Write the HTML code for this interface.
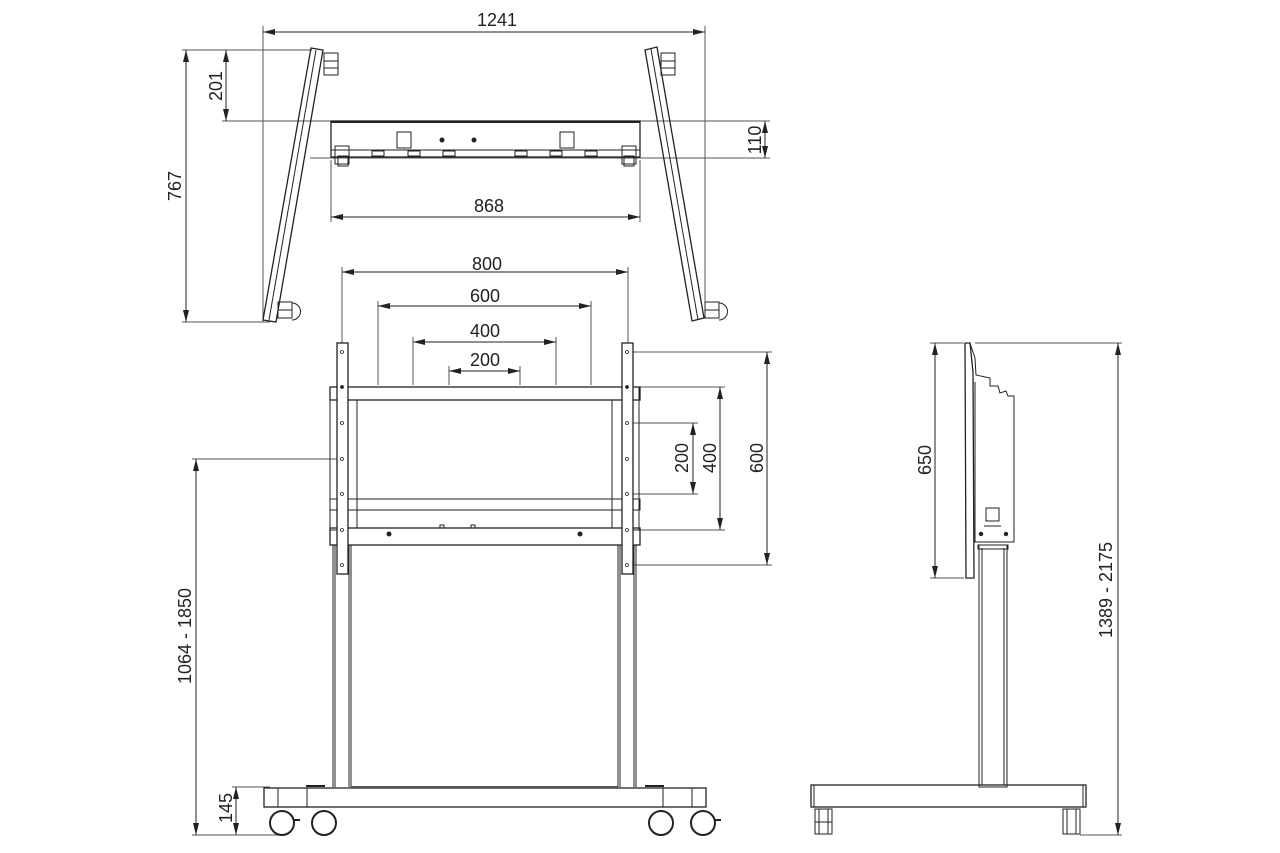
<!DOCTYPE html>
<html><head><meta charset="utf-8"><style>
html,body{margin:0;padding:0;background:#fff;}
svg{display:block;}
text{font-family:"Liberation Sans",Arial,sans-serif;font-size:18px;fill:#222;}
</style></head><body>
<svg width="1280" height="853" viewBox="0 0 1280 853" xmlns="http://www.w3.org/2000/svg">
<defs>
<marker id="a" viewBox="0 0 12 6" refX="12" refY="3" markerWidth="12" markerHeight="6" orient="auto-start-reverse" markerUnits="userSpaceOnUse"><path d="M0,0 L12,3 L0,6 z" fill="#222"/></marker>
</defs>
<g stroke="#222" stroke-width="1" fill="none">
<line x1="263" y1="26" x2="263" y2="322" stroke="#555"/>
<line x1="705" y1="26" x2="705" y2="312" stroke="#555"/>
<line x1="182" y1="50" x2="312" y2="50" stroke="#555"/>
<line x1="182" y1="322" x2="270" y2="322" stroke="#555"/>
<line x1="222" y1="121" x2="655" y2="121" stroke="#555"/>
<line x1="310" y1="158" x2="770" y2="158" stroke="#555"/>
<line x1="640" y1="121" x2="770" y2="121" stroke="#555"/>
<line x1="331" y1="160" x2="331" y2="222" stroke="#555"/>
<line x1="640" y1="160" x2="640" y2="222" stroke="#555"/>
<line x1="263" y1="32" x2="705" y2="32" marker-start="url(#a)" marker-end="url(#a)"/>
<line x1="186" y1="50" x2="186" y2="322" marker-start="url(#a)" marker-end="url(#a)"/>
<line x1="226" y1="50" x2="226" y2="121" marker-start="url(#a)" marker-end="url(#a)"/>
<line x1="765" y1="121" x2="765" y2="158" marker-start="url(#a)" marker-end="url(#a)"/>
<line x1="331" y1="217" x2="640" y2="217" marker-start="url(#a)" marker-end="url(#a)"/>
<polygon points="311,48 323,50 276,322 263,320" stroke-width="1.3"/>
<line x1="316" y1="50" x2="269" y2="320"/>
<polygon points="645,50 657,47 704,318 692,321" stroke-width="1.3"/>
<line x1="651" y1="49" x2="698" y2="320"/>
<rect x="324" y="53" width="14" height="8"/><rect x="324" y="61" width="14" height="7"/><rect x="324" y="68" width="14" height="7"/>
<rect x="661" y="53" width="14" height="8"/><rect x="661" y="61" width="14" height="7"/><rect x="661" y="68" width="14" height="7"/>
<rect x="278" y="302" width="14" height="8"/><rect x="278" y="310" width="14" height="8"/>
<path d="M292,303 A8,8 0 0 1 292,320"/>
<rect x="705" y="302" width="14" height="8"/><rect x="705" y="310" width="14" height="8"/>
<path d="M719,303 A8,8 0 0 1 719,320"/>
<rect x="331" y="121" width="309" height="36" stroke-width="1.3"/>
<line x1="331" y1="150" x2="640" y2="150"/>
<line x1="331" y1="122" x2="640" y2="122" stroke-width="2"/>
<rect x="397" y="132" width="14" height="16"/><rect x="560" y="132" width="14" height="16"/>
<circle cx="442" cy="140" r="2" fill="#222"/><circle cx="474" cy="140" r="2" fill="#222"/>
<rect x="372" y="151" width="12" height="5"/><rect x="408" y="151" width="12" height="5"/><rect x="443" y="151" width="12" height="5"/>
<rect x="515" y="151" width="12" height="5"/><rect x="550" y="151" width="12" height="5"/><rect x="585" y="151" width="12" height="5"/>
<rect x="335" y="146" width="14" height="18"/><rect x="338" y="156" width="10" height="10"/>
<rect x="622" y="146" width="14" height="18"/><rect x="624" y="156" width="10" height="10"/>

<line x1="342" y1="267" x2="342" y2="345" stroke="#555"/>
<line x1="628" y1="267" x2="628" y2="345" stroke="#555"/>
<line x1="378" y1="301" x2="378" y2="385" stroke="#555"/>
<line x1="591" y1="301" x2="591" y2="385" stroke="#555"/>
<line x1="413" y1="337" x2="413" y2="385" stroke="#555"/>
<line x1="556" y1="337" x2="556" y2="385" stroke="#555"/>
<line x1="449" y1="366" x2="449" y2="385" stroke="#555"/>
<line x1="520" y1="366" x2="520" y2="385" stroke="#555"/>
<line x1="342" y1="272" x2="628" y2="272" marker-start="url(#a)" marker-end="url(#a)"/>
<line x1="378" y1="306" x2="591" y2="306" marker-start="url(#a)" marker-end="url(#a)"/>
<line x1="413" y1="342" x2="556" y2="342" marker-start="url(#a)" marker-end="url(#a)"/>
<line x1="449" y1="371" x2="520" y2="371" marker-start="url(#a)" marker-end="url(#a)"/>
<line x1="633" y1="352" x2="772" y2="352" stroke="#555"/>
<line x1="640" y1="387" x2="725" y2="387" stroke="#555"/>
<line x1="633" y1="423" x2="698" y2="423" stroke="#555"/>
<line x1="633" y1="494" x2="698" y2="494" stroke="#555"/>
<line x1="640" y1="530" x2="725" y2="530" stroke="#555"/>
<line x1="633" y1="565" x2="772" y2="565" stroke="#555"/>
<line x1="693" y1="423" x2="693" y2="494" marker-start="url(#a)" marker-end="url(#a)"/>
<line x1="720" y1="387" x2="720" y2="530" marker-start="url(#a)" marker-end="url(#a)"/>
<line x1="767" y1="352" x2="767" y2="565" marker-start="url(#a)" marker-end="url(#a)"/>
<line x1="192" y1="459" x2="337" y2="459" stroke="#555"/>
<line x1="196" y1="459" x2="196" y2="835" marker-start="url(#a)" marker-end="url(#a)"/>
<line x1="232" y1="787" x2="270" y2="787" stroke="#555"/>
<line x1="192" y1="835" x2="280" y2="835" stroke="#555"/>
<line x1="236" y1="787" x2="236" y2="835" marker-start="url(#a)" marker-end="url(#a)"/>
<rect x="330" y="387" width="310" height="13" stroke-width="1.3"/>
<rect x="330" y="499" width="310" height="11"/>
<rect x="330" y="528" width="310" height="17" stroke-width="1.3"/>
<line x1="357" y1="400" x2="357" y2="528"/><line x1="612" y1="400" x2="612" y2="528"/>
<rect x="330" y="387" width="7" height="143"/><rect x="632" y="387" width="7" height="143"/>
<circle cx="389" cy="534" r="2" fill="#222"/><circle cx="580" cy="534" r="2" fill="#222"/>
<rect x="440" y="525" width="4" height="3"/><rect x="471" y="525" width="4" height="3"/>
<rect x="337" y="343" width="11" height="231" fill="#fff" stroke-width="1.3"/>
<rect x="622" y="343" width="11" height="231" fill="#fff" stroke-width="1.3"/>
<g stroke-width="0.8">
<circle cx="342" cy="352" r="1.5"/><circle cx="342" cy="387" r="1.5" fill="#222"/><circle cx="342" cy="423" r="1.5"/><circle cx="342" cy="459" r="1.5"/><circle cx="342" cy="494" r="1.5"/><circle cx="342" cy="530" r="1.5"/><circle cx="342" cy="565" r="1.5"/>
<circle cx="627" cy="352" r="1.5"/><circle cx="627" cy="387" r="1.5" fill="#222"/><circle cx="627" cy="423" r="1.5"/><circle cx="627" cy="459" r="1.5"/><circle cx="627" cy="494" r="1.5"/><circle cx="627" cy="530" r="1.5"/><circle cx="627" cy="565" r="1.5"/>
</g>
<line x1="333" y1="545" x2="333" y2="787"/><line x1="335" y1="545" x2="335" y2="787"/>
<line x1="349" y1="545" x2="349" y2="787"/><line x1="351" y1="545" x2="351" y2="787"/>
<line x1="618" y1="545" x2="618" y2="787"/><line x1="620" y1="545" x2="620" y2="787"/>
<line x1="634" y1="545" x2="634" y2="787"/><line x1="636" y1="545" x2="636" y2="787"/>
<rect x="264" y="788" width="442" height="19" stroke-width="1.3"/>
<line x1="307" y1="788" x2="307" y2="807"/><line x1="663" y1="788" x2="663" y2="807"/>
<line x1="278" y1="788" x2="278" y2="807"/><line x1="692" y1="788" x2="692" y2="807"/>
<line x1="306" y1="786" x2="325" y2="786" stroke-width="2"/><line x1="645" y1="786" x2="664" y2="786" stroke-width="2"/>
<line x1="351" y1="787" x2="618" y2="787" stroke-width="2" stroke="#555"/>
<circle cx="282" cy="823" r="12" stroke-width="2"/><circle cx="324" cy="823" r="12" stroke-width="2"/>
<circle cx="661" cy="823" r="12" stroke-width="2"/><circle cx="703" cy="823" r="12" stroke-width="2"/>
<line x1="294" y1="820" x2="300" y2="820" stroke-width="2"/><line x1="715" y1="820" x2="721" y2="820" stroke-width="2"/>

<line x1="930" y1="343" x2="964" y2="343" stroke="#555"/>
<line x1="930" y1="578" x2="964" y2="578" stroke="#555"/>
<line x1="935" y1="343" x2="935" y2="578" marker-start="url(#a)" marker-end="url(#a)"/>
<line x1="975" y1="343" x2="1122" y2="343" stroke="#555"/>
<line x1="1080" y1="835" x2="1122" y2="835" stroke="#555"/>
<line x1="1118" y1="343" x2="1118" y2="835" marker-start="url(#a)" marker-end="url(#a)"/>
<polyline points="965,343 970,343 973,372 974,578 966,578 965,343" stroke-width="1.3"/>
<polyline points="970,343 975,358 976,375 990,378 990,386 998,386 1000,393 1006,391 1008,396 1014,396 1014,542 975,542 975,382" />
<rect x="986" y="508" width="13" height="13"/>
<line x1="984" y1="526" x2="1001" y2="526"/>
<circle cx="981" cy="534" r="1.7" fill="#222"/><circle cx="1006" cy="534" r="1.7" fill="#222"/>
<rect x="979" y="545" width="28" height="242"/>
<line x1="982" y1="548" x2="982" y2="785"/><line x1="1004" y1="548" x2="1004" y2="785"/>
<rect x="978" y="545" width="30" height="4"/>
<rect x="811" y="785" width="275" height="22" stroke-width="1.3"/>
<line x1="814" y1="785" x2="814" y2="807"/><line x1="1083" y1="785" x2="1083" y2="807"/>
<rect x="815" y="809" width="17" height="25"/><rect x="819" y="809" width="9" height="25"/><line x1="815" y1="822" x2="832" y2="822"/>
<rect x="1063" y="809" width="17" height="25"/><rect x="1067" y="809" width="9" height="25"/>
</g>
<text x="497" y="26" text-anchor="middle">1241</text>
<text x="489" y="212" text-anchor="middle">868</text>
<text x="487" y="270" text-anchor="middle">800</text>
<text x="485" y="302" text-anchor="middle">600</text>
<text x="485" y="337" text-anchor="middle">400</text>
<text x="485" y="366" text-anchor="middle">200</text>
<text transform="translate(181,186) rotate(-90)" text-anchor="middle">767</text>
<text transform="translate(222,86) rotate(-90)" text-anchor="middle">201</text>
<text transform="translate(761,140) rotate(-90)" text-anchor="middle">110</text>
<text transform="translate(688,458) rotate(-90)" text-anchor="middle">200</text>
<text transform="translate(716,458) rotate(-90)" text-anchor="middle">400</text>
<text transform="translate(763,458) rotate(-90)" text-anchor="middle">600</text>
<text transform="translate(191,636) rotate(-90)" text-anchor="middle">1064 - 1850</text>
<text transform="translate(232,808) rotate(-90)" text-anchor="middle">145</text>
<text transform="translate(931,460) rotate(-90)" text-anchor="middle">650</text>
<text transform="translate(1112,590) rotate(-90)" text-anchor="middle">1389 - 2175</text>
</svg>
</body></html>
